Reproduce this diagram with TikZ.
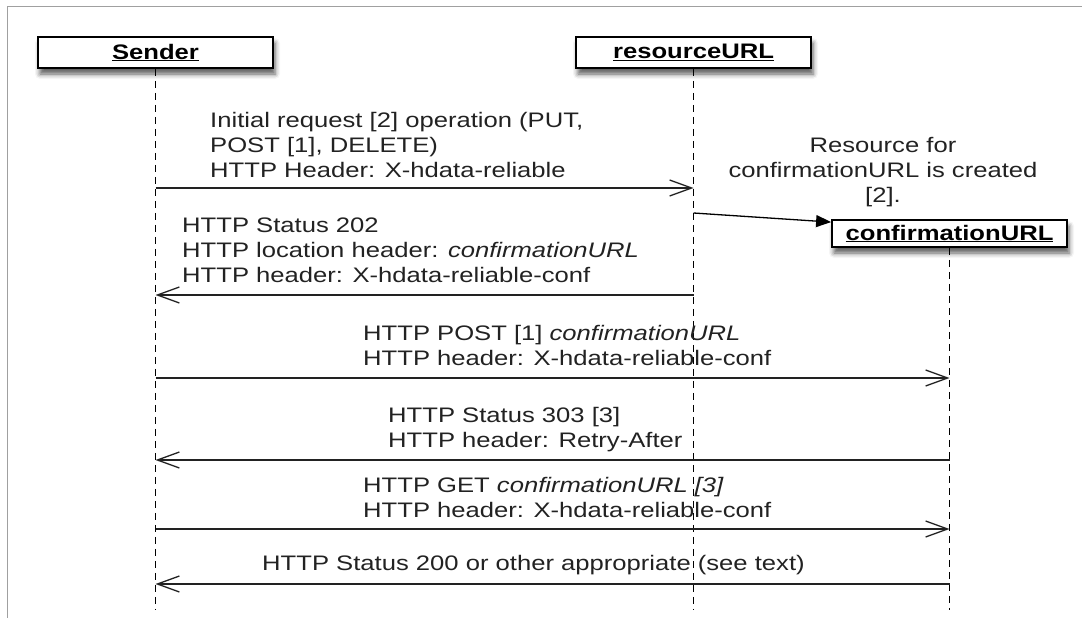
\documentclass[tikz,border=0pt]{standalone}
\usepackage{fontspec}
\setmainfont[FakeStretch=1.22]{Liberation Sans}
\usepackage{tikz}
\usetikzlibrary{arrows.meta,shadows.blur,positioning}
\definecolor{MsgGrey}{HTML}{222222}
\definecolor{FrameGrey}{HTML}{A0A0A0}
\tikzset{
  lifebox/.style={draw=black, line width=1.8pt, fill=white, minimum width=235pt, minimum height=31pt, inner sep=0pt,
    font=\fontsize{21}{25}\selectfont\bfseries,
    blur shadow={shadow xshift=2pt, shadow yshift=-6pt, shadow blur radius=5pt, shadow opacity=65}},
  lifeline/.style={line width=1.8pt, dash pattern=on 7pt off 5pt},
  msg/.style={align=left, anchor=base west, inner sep=0pt, text=MsgGrey},
  call/.style={draw=MsgGrey, line width=1.3pt, -{Straight Barb[length=22pt,width=16pt,line width=1.3pt]}},
  create/.style={draw=black, line width=1.3pt, -{Triangle[length=15pt,width=12pt]}}
}
\begin{document}
\begin{tikzpicture}[x=1pt,y=-1pt,font=\fontsize{21}{25}\selectfont]
    \useasboundingbox (0,0) rectangle (1082,618);
    \draw[FrameGrey, line width=1pt] (7,618) -- (7,7) -- (1082,7);
    \node[lifebox] (sender) at (155.5,52.5) {\underline{Sender}};
    \node[lifebox] (res) at (693.5,52.5) {\underline{resourceURL}};
    \node[lifebox, minimum height=27pt] (conf) at (949.5,233.5) {\underline{confirmationURL}};
    \coordinate (end) at (0,610);
    \foreach \n in {sender,res,conf}
        \draw[lifeline] (\n.south) -- (\n |- end);
    \node[msg] (m1) at (210,177) {Initial request [2] operation (PUT,\\POST [1], DELETE)\\HTTP Header: X-hdata-reliable};
    \node[msg, anchor=base, align=center] (mc) at (883,202) {Resource for\\confirmationURL is created\\{}[2].};
    \node[msg] (m2) at (182,282) {HTTP Status 202\\HTTP location header: \textit{confirmationURL}\\HTTP header: X-hdata-reliable-conf};
    \node[msg] (m3) at (363,365) {HTTP POST [1] \textit{confirmationURL}\\HTTP header: X-hdata-reliable-conf};
    \node[msg] (m4) at (388,447) {HTTP Status 303 [3]\\HTTP header: Retry-After};
    \node[msg] (m5) at (363,517) {HTTP GET \textit{confirmationURL [3]}\\HTTP header: X-hdata-reliable-conf};
    \node[msg] (m6) at (262,570) {HTTP Status 200 or other appropriate (see text)};
    \coordinate (made) at (0,213);
    \draw[create] (res |- made) -- ([yshift=-3pt]conf.north west);
    \foreach \y/\a/\b in {188/sender/res, 295/res/sender, 378/sender/conf, 460/conf/sender, 529/sender/conf, 584/conf/sender}
        \draw[call] (\a |- 0,\y) -- (\b |- 0,\y);
\end{tikzpicture}
\end{document}
